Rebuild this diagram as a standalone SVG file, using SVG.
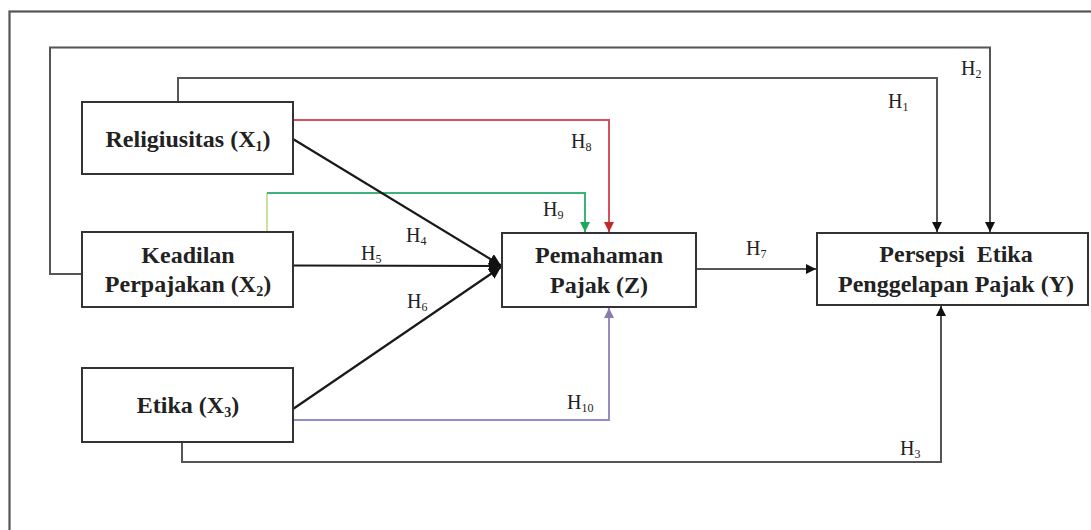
<svg xmlns="http://www.w3.org/2000/svg" width="1091" height="530" viewBox="0 0 1091 530">
<defs>
<style>
.box{fill:#fff;stroke:#333;stroke-width:2}
.bt{font-family:"Liberation Serif","Times New Roman",serif;font-weight:bold;font-size:24px;fill:#222;text-anchor:middle}
.lb{font-family:"Liberation Serif","Times New Roman",serif;font-size:20px;fill:#222}
.sub{font-size:12px}
.bt .sub{font-size:14px}
.ln{fill:none;stroke:#555;stroke-width:2}
.blk{fill:none;stroke:#1a1a1a;stroke-width:2.2}
</style>
<marker id="ah" viewBox="0 0 10 10" refX="10" refY="5" markerWidth="10" markerHeight="10" markerUnits="userSpaceOnUse" orient="auto"><path d="M0,0 L10,5 L0,10 z" fill="#111"/></marker>
<marker id="ahb" viewBox="0 0 10 10" refX="10" refY="5" markerWidth="12" markerHeight="12" markerUnits="userSpaceOnUse" orient="auto"><path d="M0,0 L10,5 L0,10 z" fill="#111"/></marker>
<marker id="ahr" viewBox="0 0 10 10" refX="10" refY="5" markerWidth="10" markerHeight="10" markerUnits="userSpaceOnUse" orient="auto"><path d="M0,0 L10,5 L0,10 z" fill="#c62828"/></marker>
<marker id="ahg" viewBox="0 0 10 10" refX="10" refY="5" markerWidth="10" markerHeight="10" markerUnits="userSpaceOnUse" orient="auto"><path d="M0,0 L10,5 L0,10 z" fill="#1fa85a"/></marker>
<marker id="ahp" viewBox="0 0 10 10" refX="10" refY="5" markerWidth="10" markerHeight="10" markerUnits="userSpaceOnUse" orient="auto"><path d="M0,0 L10,5 L0,10 z" fill="#8a7cb0"/></marker>
</defs>
<rect width="1091" height="530" fill="#fff"/>
<rect x="9.5" y="11.5" width="1100" height="600" fill="none" stroke="#555" stroke-width="2.2"/>
<g id="connectors">
<path class="ln" d="M82,274 H50 V47.5 H990 V232" marker-end="url(#ah)"/>
<path class="ln" d="M178,102 V78 H937 V232" marker-end="url(#ah)"/>
<path d="M293,120 H609 V232" fill="none" stroke="#d6535e" stroke-width="2" marker-end="url(#ahr)"/>
<path d="M267,232 V193" fill="none" stroke="#c8e0a0" stroke-width="2"/>
<path d="M267,193 H585 V232" fill="none" stroke="#3bb37a" stroke-width="2" marker-end="url(#ahg)"/>
<path d="M293,420 H609 V308" fill="none" stroke="#9a8cc0" stroke-width="2" marker-end="url(#ahp)"/>
<path class="ln" d="M182,442 V462 H941 V306" marker-end="url(#ah)"/>
<path class="ln" d="M696,269 H816" marker-end="url(#ah)"/>
<line class="blk" x1="293" y1="139" x2="501" y2="265.5" marker-end="url(#ahb)"/>
<line class="blk" x1="293" y1="265.5" x2="501" y2="266" marker-end="url(#ahb)"/>
<line class="blk" x1="293" y1="409" x2="501" y2="267" marker-end="url(#ahb)"/>
</g>
<g id="labels">
<text class="lb" x="888" y="108">H<tspan class="sub" dy="3">1</tspan></text>
<text class="lb" x="961" y="75">H<tspan class="sub" dy="3">2</tspan></text>
<text class="lb" x="900" y="455">H<tspan class="sub" dy="3">3</tspan></text>
<text class="lb" x="406" y="242">H<tspan class="sub" dy="3">4</tspan></text>
<text class="lb" x="361" y="260">H<tspan class="sub" dy="3">5</tspan></text>
<text class="lb" x="407" y="308">H<tspan class="sub" dy="3">6</tspan></text>
<text class="lb" x="746" y="255">H<tspan class="sub" dy="3">7</tspan></text>
<text class="lb" x="571" y="148">H<tspan class="sub" dy="3">8</tspan></text>
<text class="lb" x="543" y="216">H<tspan class="sub" dy="3">9</tspan></text>
<text class="lb" x="567" y="409">H<tspan class="sub" dy="3">10</tspan></text>
</g>
<g id="x1">
<rect class="box" x="82" y="102" width="211" height="72"/>
<text class="bt" x="188" y="147">Religiusitas (X<tspan class="sub" dy="4">1</tspan><tspan dy="-4">)</tspan></text>
</g>
<g id="x2">
<rect class="box" x="82" y="232" width="211" height="75"/>
<text class="bt" x="188" y="263">Keadilan</text>
<text class="bt" x="188" y="292">Perpajakan (X<tspan class="sub" dy="4">2</tspan><tspan dy="-4">)</tspan></text>
</g>
<g id="x3">
<rect class="box" x="82" y="368" width="211" height="74"/>
<text class="bt" x="188" y="413">Etika (X<tspan class="sub" dy="4">3</tspan><tspan dy="-4">)</tspan></text>
</g>
<g id="z">
<rect class="box" x="502" y="233" width="194" height="74"/>
<text class="bt" x="599" y="263">Pemahaman</text>
<text class="bt" x="599" y="293">Pajak (Z)</text>
</g>
<g id="y">
<rect class="box" x="817" y="233" width="271" height="72"/>
<text class="bt" x="956" y="262" xml:space="preserve">Persepsi  Etika</text>
<text class="bt" x="956" y="292">Penggelapan Pajak (Y)</text>
</g>
</svg>
